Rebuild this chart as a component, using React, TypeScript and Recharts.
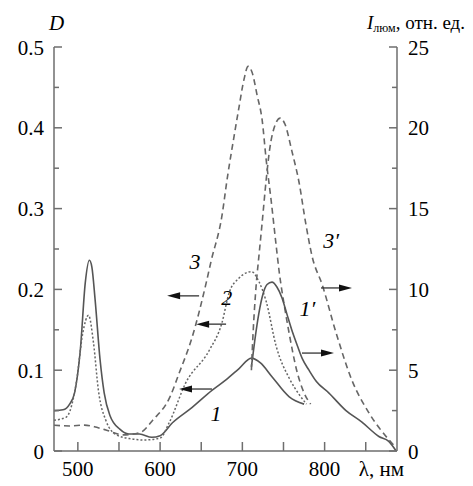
import React from "react";
import {
  Customized,
  Line,
  LineChart,
  ReferenceDot,
  ReferenceLine,
  XAxis,
  YAxis,
} from "recharts";

// absorption D (left axis)
const WL_1 = [471, 482, 490, 496, 503, 509, 514, 517, 521, 527, 532, 539, 551, 562, 575, 590, 600, 615, 639, 663, 680, 696, 711, 722, 736, 757, 775];
const D_1 = [0.05, 0.051, 0.058, 0.072, 0.125, 0.208, 0.236, 0.228, 0.187, 0.113, 0.072, 0.044, 0.027, 0.021, 0.021, 0.017, 0.019, 0.035, 0.054, 0.075, 0.088, 0.102, 0.115, 0.109, 0.092, 0.067, 0.058];

const WL_2 = [471, 486, 498, 506, 513, 519, 525, 534, 547, 565, 580, 600, 611, 631, 660, 675, 684, 696, 711, 720, 729, 741, 757, 769, 778];
const D_2 = [0.038, 0.042, 0.084, 0.146, 0.168, 0.134, 0.075, 0.038, 0.02, 0.015, 0.0136, 0.016, 0.035, 0.084, 0.125, 0.158, 0.196, 0.214, 0.222, 0.21, 0.185, 0.13, 0.09, 0.07, 0.058];

const WL_3 = [471, 490, 508, 520, 534, 555, 576, 591, 612, 623, 639, 656, 662, 675, 682, 690, 696, 702, 707, 712, 718, 724, 729, 735, 741, 745, 751, 757, 766, 775, 783];
const D_3 = [0.032, 0.031, 0.032, 0.03, 0.026, 0.02, 0.023, 0.038, 0.067, 0.096, 0.141, 0.208, 0.235, 0.29, 0.34, 0.39, 0.426, 0.46, 0.476, 0.468, 0.44, 0.41, 0.36, 0.31, 0.255, 0.22, 0.18, 0.145, 0.1, 0.072, 0.058];

// luminescence I (right axis)
const WL_1P = [711, 715, 720, 725, 730, 736, 742, 748, 754, 760, 767, 773, 781, 790, 805, 826, 845, 866, 878, 887];
const I_1P = [5.2, 6.8, 8.5, 9.7, 10.3, 10.45, 10.15, 9.5, 8.5, 7.5, 6.5, 5.7, 5.0, 4.3, 3.6, 2.5, 1.8, 0.9, 0.6, 0];

const WL_3P = [711, 712, 717, 720, 724, 729, 733, 740, 746, 752, 760, 769, 777, 785, 797, 814, 833, 854, 878, 885];
const I_3P = [5.0, 6.2, 10.4, 12, 14.1, 16.8, 18.6, 20.2, 20.6, 20.2, 18.6, 16.6, 14.1, 12.0, 10.3, 7.3, 4.4, 2.35, 0.7, 0.3];

const X_TICKS = [500, 550, 600, 650, 700, 750, 800, 850];
const D_TICKS = [0, 0.05, 0.1, 0.15, 0.2, 0.25, 0.3, 0.35, 0.4, 0.45, 0.5];
const I_TICKS = [0, 2.5, 5, 7.5, 10, 12.5, 15, 17.5, 20, 22.5, 25];

const zip = (xs: number[], ys: number[]) => xs.map((x, i) => ({ x, y: ys[i] }));

const AXIS = "#6e6e6e";
const INK = "#555";
const FONT =
  "'Times New Roman', Times, 'Liberation Serif', 'DejaVu Serif', 'Noto Serif', Tinos, serif";
const FS = 21;
const TXT = { fontFamily: FONT, fontSize: FS };

// curve numbers: [text, wavelength, value, axis]
const CURVE_LABELS: [string, number, number, string][] = [
  ["3", 642.5, 0.235, "d"],
  ["2", 681, 0.19, "d"],
  ["1", 668, 0.047, "d"],
  ["1′", 779, 8.85, "i"],
  ["3′", 808, 13.06, "i"],
];

// arrows: [from, to, level, axis]
const ARROWS: [number, number, number, string][] = [
  [647.4, 608.5, 0.192, "d"],
  [680.2, 643.8, 0.157, "d"],
  [663, 623, 0.0767, "d"],
  [795.6, 833.3, 10.09, "i"],
  [772.5, 811.4, 6.06, "i"],
];

function LeftTick({ x, y, payload }: any) {
  const v = payload.value;
  const major = Math.abs(v * 10 - Math.round(v * 10)) < 1e-6;
  return (
    <g>
      <line x1={x} y1={y} x2={x + (major ? 8 : 5)} y2={y} stroke={AXIS} strokeWidth={1.5} />
      {major && (
        <text x={x - 10} y={y} dy="0.36em" textAnchor="end" style={TXT} fill="#000">
          {v === 0 ? "0" : v.toFixed(1)}
        </text>
      )}
    </g>
  );
}

function RightTick({ x, y, payload }: any) {
  const v = payload.value;
  const major = v % 5 === 0;
  return (
    <g>
      <line x1={x} y1={y} x2={x - (major ? 8 : 5)} y2={y} stroke={AXIS} strokeWidth={1.5} />
      {major && (
        <text x={x + 11} y={y} dy="0.36em" textAnchor="start" style={TXT} fill="#000">
          {v}
        </text>
      )}
    </g>
  );
}

function BottomTick({ x, y, payload }: any) {
  const v = payload.value;
  return (
    <g>
      <line x1={x} y1={y} x2={x} y2={y - 9} stroke={AXIS} strokeWidth={1.5} />
      {v % 100 === 0 && (
        <text x={x} y={y + 25} textAnchor="middle" style={TXT} fill="#000">
          {v}
        </text>
      )}
      {v === 850 && (
        <text x={x - 7} y={y + 25} textAnchor="start" style={TXT} fill="#000">
          λ, нм
        </text>
      )}
    </g>
  );
}

const arrowShape = (p: any) => {
  const dir = p.x2 > p.x1 ? 1 : -1;
  const tip = p.x2;
  return (
    <g>
      <line x1={p.x1} y1={p.y1} x2={tip - dir * 8} y2={p.y2} stroke="#333" strokeWidth={1.3} />
      <polygon
        points={`${tip},${p.y2} ${tip - dir * 13},${p.y2 - 3.5} ${tip - dir * 13},${p.y2 + 3.5}`}
        fill="#111"
      />
    </g>
  );
};

const Titles = () => (
  <g fill="#000">
    <text x={41} y={22} style={{ ...TXT, fontStyle: "italic" }}>D</text>
    <text x={457} y={21} textAnchor="end" style={{ ...TXT, fontSize: 19 }}>
      <tspan style={{ fontStyle: "italic" }}>I</tspan>
      <tspan style={{ fontSize: 12 }} dy={3}>люм</tspan>
      <tspan dy={-3}>, отн. ед.</tspan>
    </text>
  </g>
);

export default function App() {
  return (
    <div style={{ width: 465, height: 478, fontFamily: FONT }}>
      <LineChart width={465} height={478} margin={{ top: 39, right: 16, bottom: 0, left: 0 }}>
        <XAxis
          type="number"
          dataKey="x"
          domain={[471, 888]}
          ticks={X_TICKS}
          interval={0}
          allowDataOverflow
          height={35}
          tickSize={0}
          tickMargin={0}
          tick={<BottomTick />}
          axisLine={{ stroke: AXIS, strokeWidth: 1.5 }}
        />
        <YAxis
          yAxisId="d"
          domain={[0, 0.5]}
          ticks={D_TICKS}
          interval={0}
          width={46}
          tickSize={0}
          tickMargin={0}
          tick={<LeftTick />}
          axisLine={{ stroke: AXIS, strokeWidth: 1.5 }}
        />
        <YAxis
          yAxisId="i"
          orientation="right"
          domain={[0, 25]}
          ticks={I_TICKS}
          interval={0}
          width={60}
          tickSize={0}
          tickMargin={0}
          tick={<RightTick />}
          axisLine={{ stroke: AXIS, strokeWidth: 1.5 }}
        />
        <Line yAxisId="d" data={zip(WL_1, D_1)} dataKey="y" type="monotone" stroke={INK} strokeWidth={1.6} dot={false} isAnimationActive={false} />
        <Line yAxisId="d" data={zip(WL_2, D_2)} dataKey="y" type="monotone" stroke="#666" strokeWidth={1.5} strokeDasharray="2 2" dot={false} isAnimationActive={false} />
        <Line yAxisId="d" data={zip(WL_3, D_3)} dataKey="y" type="monotone" stroke="#666" strokeWidth={1.6} strokeDasharray="6 4" dot={false} isAnimationActive={false} />
        <Line yAxisId="i" data={zip(WL_1P, I_1P)} dataKey="y" type="monotone" stroke={INK} strokeWidth={1.6} dot={false} isAnimationActive={false} />
        <Line yAxisId="i" data={zip(WL_3P, I_3P)} dataKey="y" type="monotone" stroke="#666" strokeWidth={1.6} strokeDasharray="6 4" dot={false} isAnimationActive={false} />
        {ARROWS.map(([a, b, v, ax], i) => (
          <ReferenceLine
            key={"a" + i}
            yAxisId={ax}
            segment={[{ x: a, y: v }, { x: b, y: v }]}
            shape={arrowShape}
          />
        ))}
        {CURVE_LABELS.map(([t, x, v, ax]) => (
          <ReferenceDot
            key={t}
            yAxisId={ax}
            x={x}
            y={v}
            r={0}
            shape={(p: any) => (
              <text x={p.cx} y={p.cy} dy="0.35em" textAnchor="middle" style={{ ...TXT, fontSize: 22, fontStyle: "italic" }} fill="#000">
                {t}
              </text>
            )}
          />
        ))}
        <Customized component={Titles} />
      </LineChart>
    </div>
  );
}
